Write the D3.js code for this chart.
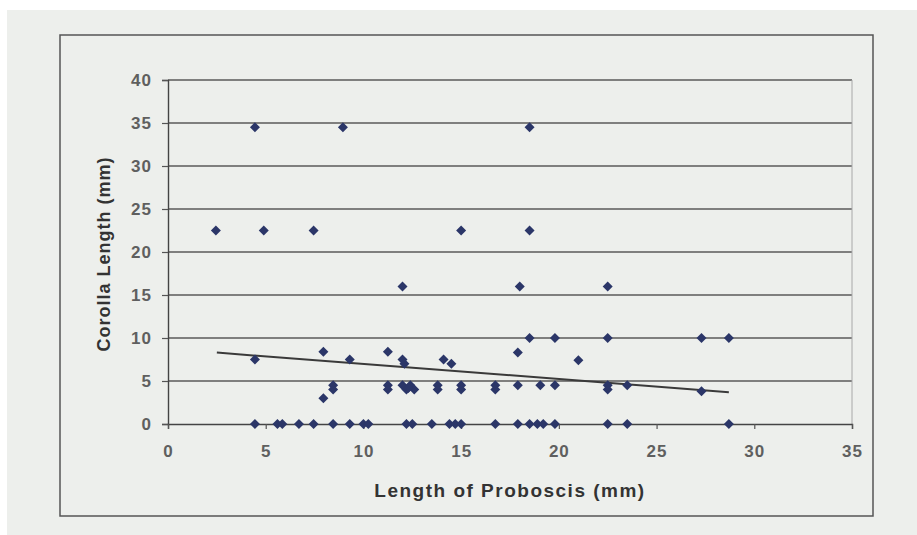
<!DOCTYPE html>
<html>
<head>
<meta charset="utf-8">
<script src="https://cdn.jsdelivr.net/npm/d3@7"></script>
<style>
  html, body { margin: 0; padding: 0; background: #fff; }
  text { font-family: "Liberation Sans", Arial, sans-serif; }
</style>
</head>
<body>
<div id="chart"></div>
<script>
// proboscis length (x) and corolla length (y)
const proboscis = [
  4.45, 8.95, 18.5,
  2.45, 4.9, 7.45, 15.0, 18.5,
  12.0, 18.0, 22.5,
  18.5, 19.8, 22.5, 27.3, 28.7,
  7.95, 11.25, 17.9,
  4.45, 9.3, 12.0, 12.1, 14.1, 14.5, 21.0,
  8.45, 8.45, 7.95, 11.25, 11.25, 12.0, 12.2, 12.4, 12.6, 12.3, 13.8, 13.8,
  15.0, 15.0, 16.75, 16.75, 17.9, 19.05, 19.8, 22.5, 22.5, 23.5, 27.3,
  4.45, 5.6, 5.85, 6.7, 7.45, 8.45, 9.3, 10.0, 10.25, 12.2, 12.5, 13.5,
  14.4, 14.7, 15.0, 16.75, 17.9, 18.5, 18.9, 19.2, 19.8, 22.5, 23.5, 28.7
];
const corolla = [
  34.5, 34.5, 34.5,
  22.5, 22.5, 22.5, 22.5, 22.5,
  16, 16, 16,
  10, 10, 10, 10, 10,
  8.4, 8.4, 8.3,
  7.5, 7.5, 7.5, 7.0, 7.5, 7.0, 7.4,
  4.5, 4.0, 3.0, 4.5, 4.0, 4.5, 4.0, 4.5, 4.0, 4.2, 4.5, 4.0,
  4.5, 4.0, 4.5, 4.0, 4.5, 4.5, 4.5, 4.5, 4.0, 4.5, 3.8,
  0, 0, 0, 0, 0, 0, 0, 0, 0, 0, 0, 0,
  0, 0, 0, 0, 0, 0, 0, 0, 0, 0, 0, 0
];
// linear trend line end points
const trendX = [2.5, 28.7];
const trendY = [8.3, 3.7];

const xTicks = [0, 5, 10, 15, 20, 25, 30, 35];
const yTicks = [0, 5, 10, 15, 20, 25, 30, 35, 40];

const width = 917, height = 535;

const svg = d3.select("#chart").append("svg")
  .attr("width", width)
  .attr("height", height);

// scanned page background
svg.append("rect")
  .attr("x", 7).attr("y", 10)
  .attr("width", width - 7).attr("height", height - 10)
  .attr("fill", "#edefec");

// chart frame
svg.append("rect")
  .attr("x", 60).attr("y", 35)
  .attr("width", 813).attr("height", 481)
  .attr("fill", "none")
  .attr("stroke", "#555")
  .attr("stroke-width", 1.5);

const x = d3.scaleLinear().domain([0, 35]).range([168, 852]);
const y = d3.scaleLinear().domain([0, 40]).range([424, 80]);

// gridlines
svg.append("g")
  .selectAll("line")
  .data(yTicks.filter(d => d > 0))
  .join("line")
  .attr("x1", x(0)).attr("x2", x(35))
  .attr("y1", d => y(d)).attr("y2", d => y(d))
  .attr("stroke", "#5a5a5a")
  .attr("stroke-width", 1.4);

// plot area right edge
svg.append("line")
  .attr("x1", x(35)).attr("x2", x(35))
  .attr("y1", y(40)).attr("y2", y(0))
  .attr("stroke", "#a8a8a8")
  .attr("stroke-width", 1);

// axes
const yAxis = svg.append("g")
  .attr("transform", `translate(${x(0)},0)`)
  .call(d3.axisLeft(y).tickValues(yTicks).tickSize(6).tickPadding(10));

const xAxis = svg.append("g")
  .attr("transform", `translate(0,${y(0)})`)
  .call(d3.axisBottom(x).tickValues(xTicks).tickSize(5).tickPadding(16));

[xAxis, yAxis].forEach(a => {
  a.select(".domain").attr("stroke", "#444").attr("stroke-width", 1.4);
  a.selectAll(".tick line").attr("stroke", "#555").attr("stroke-width", 1.2);
  a.selectAll(".tick text")
    .attr("font-family", "Liberation Sans, Arial, sans-serif")
    .attr("font-size", 17)
    .attr("font-weight", "bold")
    .attr("letter-spacing", 1)
    .attr("fill", "#5f5f5f");
});

// trend line
svg.append("line")
  .attr("x1", x(trendX[0])).attr("y1", y(trendY[0]))
  .attr("x2", x(trendX[1])).attr("y2", y(trendY[1]))
  .attr("stroke", "#3a3a3a")
  .attr("stroke-width", 2);

// points (squat diamonds like the scanned Excel markers)
const diamond = d3.symbol().type(d3.symbolSquare).size(50);
svg.append("g")
  .selectAll("path")
  .data(proboscis.map((v, i) => [v, corolla[i]]))
  .join("path")
  .attr("d", diamond)
  .attr("transform", d => `translate(${x(d[0])},${y(d[1])}) rotate(45)`)
  .attr("fill", "#2b3668");

// axis titles
svg.append("text")
  .attr("x", 510)
  .attr("y", 497)
  .attr("text-anchor", "middle")
  .attr("font-size", 19)
  .attr("font-weight", "bold")
  .attr("letter-spacing", 1.5)
  .attr("fill", "#333")
  .text("Length of Proboscis (mm)");

svg.append("text")
  .attr("transform", `translate(110,${(y(0) + y(40)) / 2 + 2}) rotate(-90)`)
  .attr("text-anchor", "middle")
  .attr("font-size", 18)
  .attr("font-weight", "bold")
  .attr("letter-spacing", 1)
  .attr("fill", "#333")
  .text("Corolla Length (mm)");
</script>
</body>
</html>
